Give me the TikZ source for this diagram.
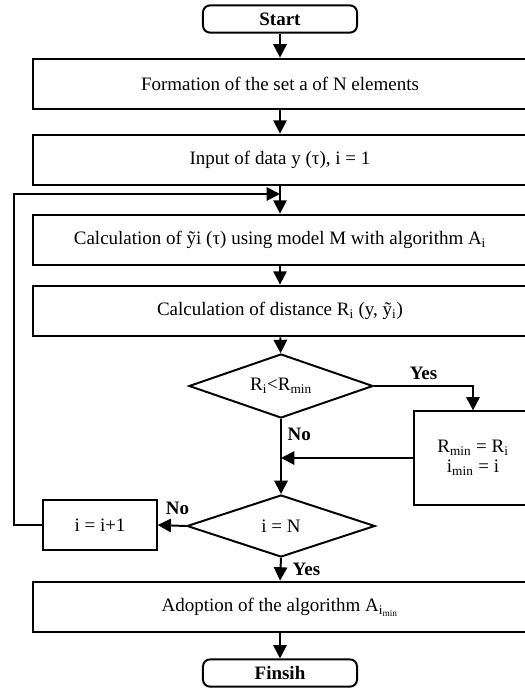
\documentclass[tikz,border=0pt]{standalone}
\usepackage{fontspec}
\setmainfont{Liberation Serif}
\usetikzlibrary{shapes.geometric,arrows.meta}

\begin{document}
\fontsize{13.5}{15}\selectfont
\begin{tikzpicture}[x=0.025cm, y=-0.025cm, line width=1.4pt,
  box/.style={draw, minimum width=12.35cm, minimum height=1.27cm, inner sep=0pt},
  term/.style={draw, rounded corners=5pt, minimum width=3.85cm, minimum height=0.68cm, inner sep=0pt, font=\bfseries},
  decision/.style={draw, diamond, aspect=3, minimum width=4.6cm, minimum height=1.6cm, inner sep=0pt},
  flow/.style={-{Triangle[length=9.5pt, width=9.5pt]}},
  lbl/.style={font=\bfseries, inner sep=2pt}]
\useasboundingbox (0,0) rectangle (525,690);

\node[term] (start) at (280,19) {Start};
\node[box] (form) at (280,84) {Formation of the set a of N elements};
\node[box] (input) at (280,160) {Input of data y (τ), i = 1};
\node[box] (calc) at (280,240) {Calculation of ỹi (τ) using model M with algorithm A\textsubscript{i}};
\node[box] (dist) at (280,311) {Calculation of distance R\textsubscript{i} (y, ỹ\textsubscript{i})};
\node[decision] (dec1) at (281,386) {R\textsubscript{i}<R\textsubscript{min}};
\node[draw, minimum width=2.95cm, minimum height=2.33cm, align=center, inner sep=0pt] (minbox) at (473,458)
  {R\textsubscript{min} = R\textsubscript{i}\\[-1pt]i\textsubscript{min} = i};
\node[decision, minimum width=4.7cm, minimum height=1.55cm] (dec2) at (281,526) {i = N};
\node[draw, minimum width=2.83cm, minimum height=1.25cm, inner sep=0pt] (inc) at (100,525) {i = i+1};
\node[box] (adopt) at (280,607) {Adoption of the algorithm A\textsubscript{i\textsubscript{min}}};
\node[term] (finish) at (280,673) {Finsih};

% main line
\draw[flow] (start) -- (form);
\draw[flow] (form) -- (input);
\draw[flow] (input) -- (calc);
\draw[flow] (calc) -- (dist);
\draw[flow] (dist) -- (dec1);
\draw[flow] (dec1.east) -| node[lbl, above, pos=0.25, yshift=2pt] {Yes} (minbox.north);
\draw[flow] (dec1.south) -- node[lbl, right, pos=0.2, xshift=2pt] {No} (dec2.north);
\draw[flow] (minbox.west) -- (minbox.west -| dec1.south);
\draw[flow] (dec2.west) -- node[lbl, above, pos=0.3, yshift=5pt] {No} (inc.east);
\draw[flow] (dec2.south) -- node[lbl, right, xshift=6pt] {Yes} (adopt.north);
\draw[flow] (adopt) -- (finish);

% loop back
\coordinate (back) at (280,194);
\draw[flow] (inc.west) -- ++(-28,0) |- (back);
\end{tikzpicture}
\end{document}
